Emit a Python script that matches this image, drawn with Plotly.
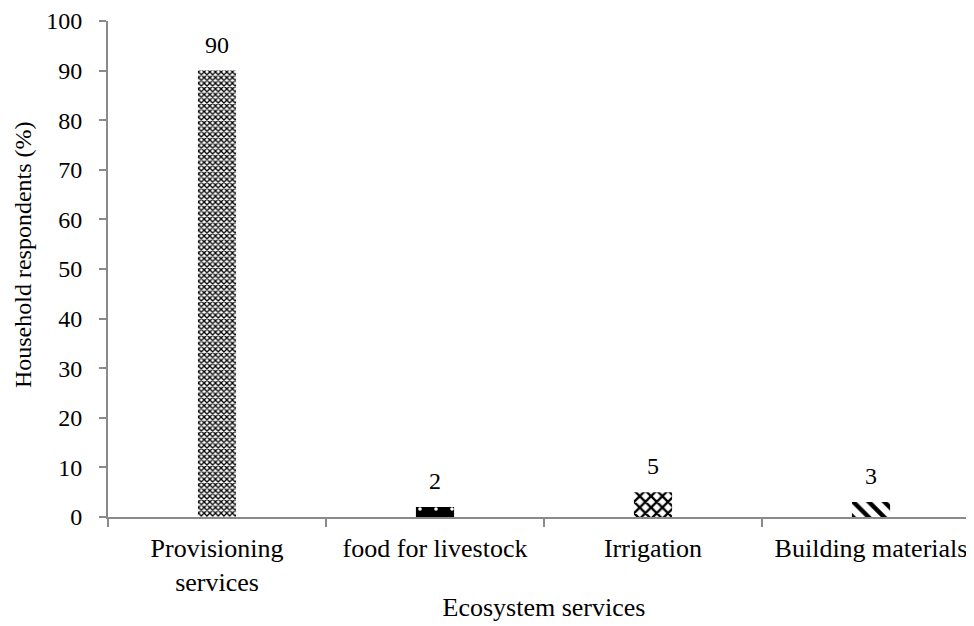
import plotly.graph_objects as go

categories = ["Provisioning<br>services", "food for livestock", "Irrigation", "Building materials"]
values = [90, 2, 5, 3]
labels = ["90", "2", "5", "3"]

shapes = ["x", ".", "x", "\\"]
fg = ["black", "white", "black", "black"]
bg = ["white", "black", "white", "white"]
sizes = [4, 16, 8, 11]
solid = [0.55, 0.04, 0.5, 0.4]

fig = go.Figure()
for i in range(len(categories)):
    fig.add_trace(go.Bar(
        x=[categories[i]], y=[values[i]],
        marker=dict(color=bg[i], line=dict(width=0),
                    pattern=dict(shape=shapes[i], fgcolor=fg[i], bgcolor=bg[i],
                                 size=sizes[i], solidity=solid[i], fgopacity=1)),
        width=0.175, cliponaxis=False,
    ))
    fig.add_annotation(x=categories[i], y=values[i], text=labels[i], showarrow=False,
                       yanchor="bottom", yshift=11,
                       font=dict(family="Liberation Serif", size=24, color="black"))

fig.add_annotation(text="Household respondents (%)", textangle=-90, showarrow=False,
                   xref="paper", yref="paper", x=-0.0975, y=0.53,
                   xanchor="center", yanchor="middle",
                   font=dict(family="Liberation Serif", size=24, color="black"))

fig.update_layout(
    width=974, height=626,
    margin=dict(l=100, r=2, t=13, b=117),
    plot_bgcolor="white", paper_bgcolor="white",
    font=dict(family="Liberation Serif", size=24, color="black"),
    showlegend=False, barmode="overlay",
    xaxis=dict(categoryorder="array", categoryarray=categories),
)
fig.update_yaxes(range=[0, 100], dtick=10, showgrid=False, zeroline=False, automargin=False,
                 showline=True, linecolor="#8a8a8a", linewidth=2,
                 ticks="outside", ticklen=7, tickcolor="#8a8a8a", tickwidth=2,
                 ticklabelstandoff=12, tickfont=dict(size=24))
fig.update_xaxes(showgrid=False, showline=True, linecolor="#8a8a8a", linewidth=2, automargin=False,
                 ticks="outside", ticklen=8, tickcolor="#8a8a8a", tickwidth=2,
                 tickson="boundaries", ticklabelstandoff=7,
                 title=dict(text="Ecosystem services", font=dict(size=26), standoff=2),
                 tickfont=dict(size=26))
fig.write_html("out.html")
